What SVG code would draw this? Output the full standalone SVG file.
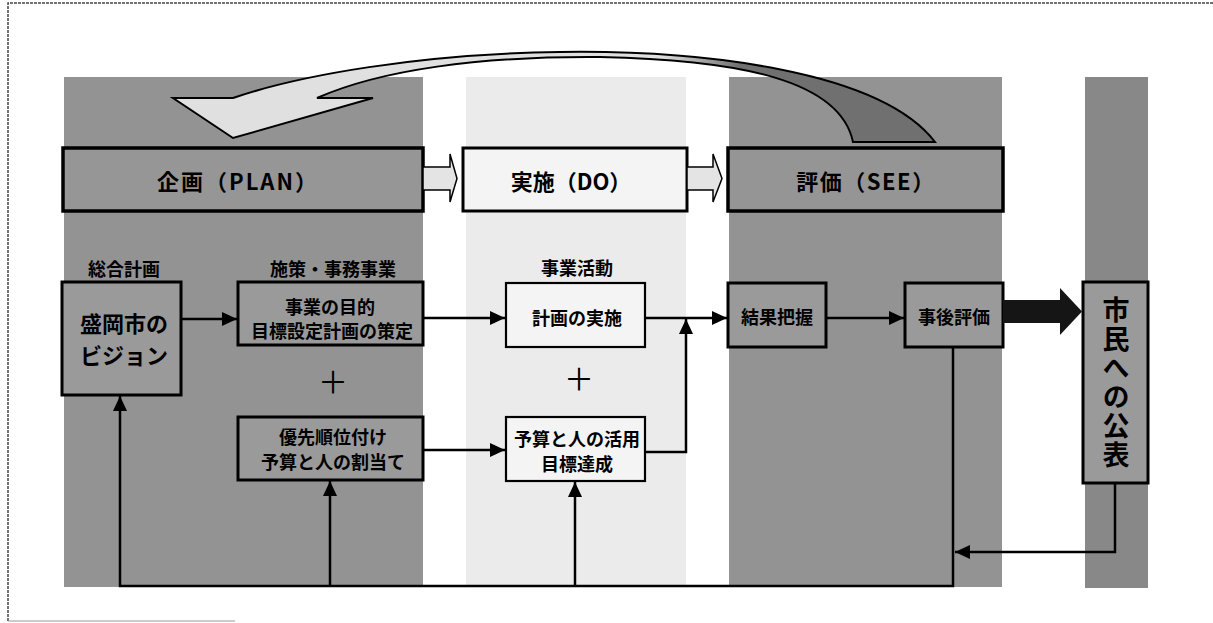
<svg xmlns="http://www.w3.org/2000/svg" width="1213" height="623" viewBox="0 0 1213 623">
<style>
.jp{font-family:"Noto Sans CJK JP","Liberation Sans",sans-serif;font-weight:bold;fill:#000}
.lbl{font-size:18px;text-anchor:middle;dominant-baseline:central}
.big{font-size:22px;text-anchor:middle;dominant-baseline:central}
.hdr{font-size:22px;text-anchor:middle;dominant-baseline:central}
.plus{font-size:30px;font-weight:normal;text-anchor:middle;dominant-baseline:central}
.gbox{fill:#9a9a9a;stroke:#000;stroke-width:3}
.wbox{fill:#f4f4f4;stroke:#000;stroke-width:2.2}
.con{fill:none;stroke:#000;stroke-width:2.5}
.harrow{fill:#e4e4e4;stroke:#000;stroke-width:1.5}
</style>
<defs>
<marker id="ah" markerUnits="userSpaceOnUse" markerWidth="16" markerHeight="16" refX="15" refY="7" orient="auto">
<path d="M0,0 L15,7 L0,14 Z" fill="#000"/>
</marker>
<linearGradient id="cg" gradientUnits="userSpaceOnUse" x1="660" y1="0" x2="740" y2="0">
<stop offset="0" stop-color="#e0e0e0"/>
<stop offset="1" stop-color="#707070"/>
</linearGradient>
</defs>

<!-- frame -->
<g id="frame" fill="none">
<path d="M8,621 L8,3 L1213,3" stroke="#444" stroke-width="1.5" stroke-dasharray="3 1"/>
<path d="M8,621 L235,621" stroke="#999" stroke-width="1.2"/>
</g>

<!-- panels -->
<g id="panels">
<rect x="64" y="77" width="359" height="510" fill="#939393"/>
<rect x="466" y="77" width="220" height="510" fill="#ebebeb"/>
<rect x="729" y="77" width="273" height="510" fill="#939393"/>
<rect x="1085" y="77" width="63" height="511" fill="#888"/>
</g>

<!-- curved feedback arrow -->
<g id="curved-arrow">
<path d="M173,98 L233,98 C300,75 420,54 560,52 C700,50 880,70 935,142 L853,142 C840,80 740,60 600,57 C480,56 380,70 317,98 L373,98 L233,138 Z" fill="url(#cg)" stroke="#000" stroke-width="2"/>
</g>

<!-- phase headers -->
<g id="hdr-plan">
<rect x="63" y="148" width="360" height="63" fill="#969696" stroke="#000" stroke-width="3.5"/>
<text class="jp hdr" x="238" y="180" letter-spacing="2">企画（PLAN）</text>
</g>
<g id="hdr-do">
<rect x="463" y="148" width="224" height="63" fill="#f4f4f4" stroke="#000" stroke-width="3"/>
<text class="jp hdr" x="571" y="180">実施（DO）</text>
</g>
<g id="hdr-see">
<rect x="728" y="148" width="275" height="63" fill="#959595" stroke="#000" stroke-width="3.5"/>
<text class="jp hdr" x="866" y="180" letter-spacing="1.5">評価（SEE）</text>
</g>
<g id="hdr-arrows">
<path class="harrow" d="M423,167 L450,167 L450,154 L457,178.5 L450,202 L450,190 L423,190 Z"/>
<path class="harrow" d="M687,167 L713,167 L713,154 L722,178.5 L713,202 L713,190 L687,190 Z"/>
</g>

<!-- section labels -->
<g id="labels">
<text class="jp lbl" x="124" y="268">総合計画</text>
<text class="jp lbl" x="333" y="268">施策・事務事業</text>
<text class="jp lbl" x="577" y="267">事業活動</text>
</g>

<!-- nodes -->
<g id="n-vision">
<rect class="gbox" x="62" y="282" width="119" height="113" stroke-width="3.5"/>
<text class="jp big" x="124" y="322">盛岡市の</text>
<text class="jp big" x="124" y="354">ビジョン</text>
</g>
<g id="n-purpose">
<rect class="gbox" x="238" y="282" width="185" height="63"/>
<text class="jp lbl" x="330" y="306">事業の目的</text>
<text class="jp lbl" x="332" y="330">目標設定計画の策定</text>
</g>
<g id="n-plus1"><text class="jp plus" x="333" y="380">＋</text></g>
<g id="n-priority">
<rect class="gbox" x="238" y="417" width="185" height="63"/>
<text class="jp lbl" x="333" y="436">優先順位付け</text>
<text class="jp lbl" x="333" y="461">予算と人の割当て</text>
</g>
<g id="n-exec">
<rect class="wbox" x="506" y="283" width="139" height="64"/>
<text class="jp lbl" x="577" y="317">計画の実施</text>
</g>
<g id="n-plus2"><text class="jp plus" x="579" y="377">＋</text></g>
<g id="n-budget">
<rect class="wbox" x="506" y="417" width="139" height="64"/>
<text class="jp lbl" x="577" y="438">予算と人の活用</text>
<text class="jp lbl" x="577" y="463">目標達成</text>
</g>
<g id="n-result">
<rect class="gbox" x="728" y="283" width="98" height="64"/>
<text class="jp lbl" x="777" y="316">結果把握</text>
</g>
<g id="n-posteval">
<rect class="gbox" x="905" y="283" width="98" height="64"/>
<text class="jp lbl" x="954" y="316">事後評価</text>
</g>
<g id="n-public">
<rect class="gbox" x="1083" y="282" width="65" height="201" fill="#8e8e8e" stroke-width="4"/>
<text class="jp" x="1116" y="383" font-size="27" writing-mode="vertical-rl" text-anchor="middle" letter-spacing="2">市民への公表</text>
</g>

<!-- connectors -->
<g id="connectors">
<path class="con" d="M181,319 L237,319" marker-end="url(#ah)"/>
<path class="con" d="M423,318 L505,318" marker-end="url(#ah)"/>
<path class="con" d="M423,450 L505,450" marker-end="url(#ah)"/>
<path class="con" d="M645,318 L727,318" marker-end="url(#ah)"/>
<path class="con" d="M645,452 L686,452 L686,319" marker-end="url(#ah)"/>
<path class="con" d="M826,318 L904,318" marker-end="url(#ah)"/>
<path class="con" d="M953,347 L953,586 L120,586 L120,396" marker-end="url(#ah)"/>
<path class="con" d="M330,586 L330,481" marker-end="url(#ah)"/>
<path class="con" d="M575,586 L575,482" marker-end="url(#ah)"/>
<path class="con" d="M1115,483 L1115,552 L955,552" marker-end="url(#ah)"/>
<path d="M1003,300 L1060,300 L1060,288 L1082,311.5 L1060,335 L1060,323 L1003,323 Z" fill="#151515"/>
</g>
</svg>
